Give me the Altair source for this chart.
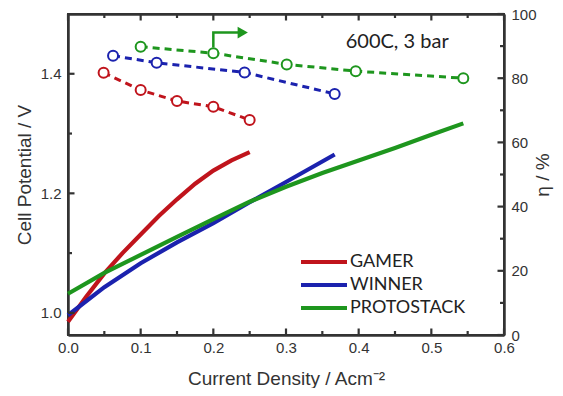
import altair as alt
import pandas as pd

# ---------------- data ----------------
series = ["GAMER", "WINNER", "PROTOSTACK"]
colors = ["#C0141C", "#1B22AE", "#1E961E"]

# cell potential curves (left axis, V)
gamer_j = [0.0, 0.025, 0.05, 0.075, 0.1, 0.125, 0.15, 0.175, 0.2, 0.225, 0.25]
gamer_v = [0.985, 1.027, 1.066, 1.100, 1.131, 1.162, 1.190, 1.216, 1.238, 1.255, 1.269]
winner_j = [0.0, 0.05, 0.1, 0.15, 0.2, 0.25, 0.3, 0.367]
winner_v = [0.996, 1.043, 1.083, 1.118, 1.150, 1.185, 1.219, 1.265]
proto_j = [0.0, 0.05, 0.1, 0.15, 0.2, 0.25, 0.3, 0.35, 0.4, 0.45, 0.5, 0.544]
proto_v = [1.032, 1.067, 1.097, 1.127, 1.157, 1.186, 1.211, 1.234, 1.255, 1.276, 1.298, 1.317]

# efficiency points (right axis, %)
gamer_ej = [0.049, 0.1, 0.15, 0.2, 0.25]
gamer_eta = [81.7, 76.3, 72.9, 71.1, 67.0]
winner_ej = [0.062, 0.122, 0.243, 0.367]
winner_eta = [87.0, 84.8, 81.8, 75.1]
proto_ej = [0.1, 0.2, 0.301, 0.396, 0.544]
proto_eta = [89.8, 87.8, 84.3, 82.2, 80.0]

# axis ticks
x_labels = [0.0, 0.1, 0.2, 0.3, 0.4, 0.5, 0.6]
x_minor = [0.05, 0.15, 0.25, 0.35, 0.45, 0.55]
v_labels = [1.0, 1.2, 1.4]
v_minor = [1.1, 1.3]
eta_labels = [0, 20, 40, 60, 80, 100]
eta_minor = [10, 30, 50, 70, 90]

# arrow pointing to the right-hand axis, and annotation
arrow_j = [0.2, 0.2, 0.236]
arrow_eta = [89.6, 94.2, 94.2]
arrow_head_j = [0.2405]
arrow_head_eta = [94.2]
note_text = ["600C, 3 bar"]
note_j = [0.453]
note_eta = [91.4]

# ---------------- tables ----------------
def frame(names, js, vals, col):
    rows = []
    for n, jj, vv in zip(names, js, vals):
        for a, b in zip(jj, vv):
            rows.append({"series": n, "j": a, col: b})
    return pd.DataFrame(rows)

solid = frame(series, [gamer_j, winner_j, proto_j], [gamer_v, winner_v, proto_v], "v")
eff = frame(series, [gamer_ej, winner_ej, proto_ej], [gamer_eta, winner_eta, proto_eta], "eta")
arrow = pd.DataFrame({"j": arrow_j, "eta": arrow_eta, "k": list(range(len(arrow_j)))})
head = pd.DataFrame({"j": arrow_head_j, "eta": arrow_head_eta})
note = pd.DataFrame({"j": note_j, "eta": note_eta, "t": note_text})

W, H = 436, 321
AX_FONT = "Liberation Sans"
TXT = "#333333"
INK = "#333333"
MAJ, MIN = 6.5, 4

xs = alt.Scale(domain=[0, 0.6], nice=False, zero=False)
vs = alt.Scale(domain=[0.963, 1.5], nice=False, zero=False)
es = alt.Scale(domain=[0, 100], nice=False, zero=False)
cs = alt.Scale(domain=series, range=colors)

FRAME = dict(domain=True, domainColor=INK, domainWidth=2.5)


def label_axis(orient, title, values, fmt, lpad, tpad, angle=None):
    kw = dict(orient=orient, title=title, values=values, format=fmt, ticks=False,
              grid=False, labelFont=AX_FONT, labelFontSize=15,
              labelColor=TXT, titleFont=AX_FONT, titleFontSize=19,
              titleFontWeight="normal", titleColor=TXT, labelPadding=lpad,
              titlePadding=tpad, labelFlush=False, labelOverlap=False, **FRAME)
    if angle is not None:
        kw["titleAngle"] = angle
    return alt.Axis(**kw)


solid_lines = alt.Chart(solid).mark_line(strokeWidth=4.2).encode(
    x=alt.X("j:Q", scale=xs,
            axis=label_axis("bottom", "Current Density / Acm⁻²", x_labels, ".1f", 5, 14)),
    y=alt.Y("v:Q", scale=vs,
            axis=label_axis("left", "Cell Potential / V", v_labels, ".1f", 7, 6)),
    color=alt.Color("series:N", scale=cs, sort=series, legend=alt.Legend(
        title=None, orient="none", legendX=242.5, legendY=234.5, direction="vertical",
        symbolType="M-2,0L2,0", symbolStrokeWidth=4, symbolSize=529,
        labelFont="Lato", labelFontSize=18, labelColor="#222222",
        labelOffset=12.5, rowPadding=0)),
)

eff_lines = alt.Chart(eff).mark_line(strokeWidth=3, strokeDash=[7, 5]).encode(
    x=alt.X("j:Q", scale=xs, axis=None),
    y=alt.Y("eta:Q", scale=es,
            axis=label_axis("right", "η / %", eta_labels, "d", 7, 16, angle=270)),
    color=alt.Color("series:N", scale=cs, legend=None),
)

eff_pts = alt.Chart(eff).mark_point(shape="circle", filled=True, fill="white",
                                    strokeWidth=2, size=100, opacity=1).encode(
    x=alt.X("j:Q", scale=xs, axis=None),
    y=alt.Y("eta:Q", scale=es, axis=None),
    stroke=alt.Stroke("series:N", scale=cs, legend=None),
)

arrow_line = alt.Chart(arrow).mark_line(strokeWidth=2.5, color=colors[2]).encode(
    x=alt.X("j:Q", scale=xs, axis=None),
    y=alt.Y("eta:Q", scale=es, axis=None),
    order="k:Q",
)

arrow_head = alt.Chart(head).mark_point(shape="triangle-right", filled=True,
                                        color=colors[2], size=140, opacity=1).encode(
    x=alt.X("j:Q", scale=xs, axis=None),
    y=alt.Y("eta:Q", scale=es, axis=None),
)

note_mark = alt.Chart(note).mark_text(font="Lato", fontSize=20, color="#222222").encode(
    x=alt.X("j:Q", scale=xs, axis=None),
    y=alt.Y("eta:Q", scale=es, axis=None),
    text="t:N",
)

# top frame line (axis domain only)
top_frame = alt.Chart(solid).mark_point(opacity=0).encode(
    x=alt.X("j:Q", scale=xs, axis=alt.Axis(orient="top", labels=False, ticks=False,
                                            grid=False, title=None, **FRAME)),
    y=alt.Y("v:Q", scale=vs, axis=None),
)


# inward tick marks, placed along the axes by the scales
def x_ticks(vals, edge, length):
    ypos = H - length / 2 if edge == "bottom" else length / 2
    return alt.Chart(pd.DataFrame({"j": vals})).mark_tick(
        orient="vertical", color=INK, size=length, thickness=2.2, opacity=1).encode(
        x=alt.X("j:Q", scale=xs, axis=None), y=alt.value(ypos))


def y_ticks(vals, col, scale, edge, length):
    xpos = length / 2 if edge == "left" else W - length / 2
    return alt.Chart(pd.DataFrame({col: vals})).mark_tick(
        orient="horizontal", color=INK, size=length, thickness=2.2, opacity=1).encode(
        y=alt.Y(col + ":Q", scale=scale, axis=None), x=alt.value(xpos))


tick_layers = [
    x_ticks(x_labels, "bottom", MAJ), x_ticks(x_minor, "bottom", MIN),
    x_ticks(x_labels, "top", MAJ), x_ticks(x_minor, "top", MIN),
    y_ticks(v_labels, "v", vs, "left", MAJ), y_ticks(v_minor, "v", vs, "left", MIN),
    y_ticks(eta_labels, "eta", es, "right", MAJ), y_ticks(eta_minor, "eta", es, "right", MIN),
]

chart = alt.layer(
    solid_lines, eff_lines, eff_pts, arrow_line, arrow_head, note_mark, top_frame, *tick_layers
).resolve_scale(y="independent").resolve_axis(x="independent", y="independent").properties(
    width=W, height=H,
    background="white",
    autosize=alt.AutoSizeParams(type="none"),
    padding={"left": 60, "top": 6, "right": 50, "bottom": 53},
).configure_view(stroke=INK, strokeWidth=2)

chart.save("out.html", embed_options={"renderer": "svg", "actions": False})
